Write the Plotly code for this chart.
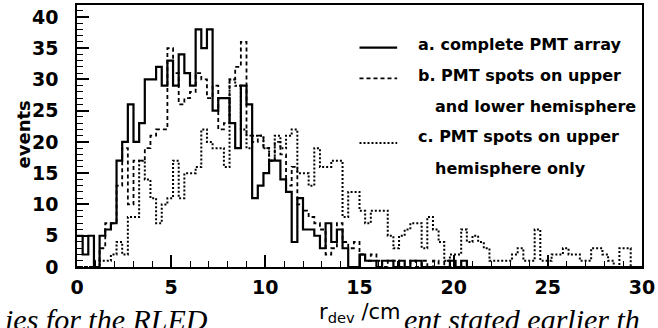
import numpy as np
import plotly.graph_objects as go

# ---------------- data (histograms, 0.3 cm bins from 0 to 30 cm) ----------------
bin_width = 0.3
series_names = ["a. complete PMT array",
                "b. PMT spots on upper",
                "c. PMT spots on upper"]

a_counts = [5, 2, 5, 0, 5, 6, 7, 17, 20, 26,
            20, 23, 30, 30, 32, 29, 33, 29, 34, 31,
            29, 38, 35, 38, 25, 27, 27, 23, 19, 29,
            26, 11, 13, 15, 17, 17, 14, 12, 4, 11,
            6, 6, 5, 3, 7, 4, 6, 3, 0, 0,
            2, 1, 1, 0, 1, 1, 0, 1, 0, 1,
            1, 0, 0, 0, 0, 0, 1, 0, 1, 0,
            0, 0, 0, 0, 0, 0, 0, 0, 0, 0,
            0, 0, 0, 0, 0, 0, 0, 0, 0, 0,
            0, 0, 0, 0, 0, 0, 0, 0, 0, 0]

b_counts = [0, 0, 0, 1, 3, 7, 7, 13, 19, 10,
            17, 17, 19, 21, 22, 22, 35, 31, 26, 27,
            28, 31, 30, 27, 29, 22, 23, 30, 32, 36,
            21, 20, 21, 19, 17, 20, 18, 13, 16, 10,
            9, 8, 7, 6, 2, 3, 7, 4, 3, 4,
            2, 1, 2, 1, 0, 1, 1, 0, 0, 1,
            0, 1, 0, 1, 0, 1, 0, 0, 0, 0,
            0, 0, 0, 0, 0, 0, 0, 0, 0, 0,
            0, 0, 0, 0, 0, 0, 0, 0, 0, 0,
            0, 0, 0, 0, 0, 0, 0, 0, 0, 0]

c_counts = [0, 0, 0, 0, 1, 1, 2, 4, 2, 8,
            8, 17, 14, 11, 7, 10, 11, 17, 11, 15,
            15, 16, 22, 20, 19, 19, 16, 30, 29, 22,
            19, 21, 21, 19, 17, 21, 19, 21, 22, 15,
            15, 13, 19, 16, 16, 17, 17, 8, 12, 12,
            9, 7, 9, 9, 9, 5, 3, 5, 6, 7,
            7, 3, 8, 6, 4, 1, 2, 2, 6, 4,
            5, 4, 3, 1, 1, 1, 1, 2, 3, 1,
            1, 6, 1, 1, 2, 2, 3, 2, 2, 1,
            1, 3, 3, 2, 1, 0, 3, 3, 0, 0]

x_ticks = [0, 5, 10, 15, 20, 25, 30]
y_ticks = [0, 5, 10, 15, 20, 25, 30, 35, 40]

# ---------------- figure ----------------
W, H = 658, 328
L, R, T, B = 77, 11, 3, 61
PW, PH = W - L - R, H - T - B


def px(xp):
    return (xp - L) / PW


def py(yp):
    return (H - B - yp) / PH


edges = np.arange(len(a_counts) + 1) * bin_width


def step_y(counts):
    return list(counts) + [counts[-1]]


fig = go.Figure()
styles = [dict(color="black", width=2.2, dash="solid"),
          dict(color="black", width=1.8, dash="4px,3px"),
          dict(color="black", width=2.0, dash="2px,2px")]
for counts, st, nm in zip([c_counts, b_counts, a_counts], styles[::-1], series_names[::-1]):
    fig.add_trace(go.Scatter(x=edges, y=step_y(counts), mode="lines",
                             line=dict(shape="hv", **st), name=nm,
                             showlegend=False, hoverinfo="skip"))

tickfont = dict(family="DejaVu Sans", size=19, color="black", weight="bold")
fig.update_xaxes(range=[0, 30], tickvals=x_ticks, ticks="inside", ticklen=12, tickwidth=1.5,
                 tickcolor="black", showline=True, linecolor="black", linewidth=2,
                 mirror=True, showgrid=False, zeroline=False, tickfont=tickfont,
                 ticklabelstandoff=2, ticklabeloverflow="allow",
                 minor=dict(dtick=1, ticks="inside", ticklen=6, tickwidth=1.2,
                            tickcolor="black", showgrid=False))
fig.update_yaxes(range=[0, 41.9], tickvals=y_ticks, ticks="inside", ticklen=12, tickwidth=1.5,
                 tickcolor="black", showline=True, linecolor="black", linewidth=1.5,
                 mirror=True, showgrid=False, zeroline=False, tickfont=tickfont,
                 ticklabelstandoff=13, ticklabeloverflow="allow",
                 minor=dict(dtick=1, ticks="inside", ticklen=6, tickwidth=1.2,
                            tickcolor="black", showgrid=False))

# legend (line samples + labels)
leg_font = dict(family="DejaVu Sans", size=16, color="black", weight="bold")
samples = [(46, styles[0]), (77, styles[1]), (142, styles[2])]
for yp, st in samples:
    fig.add_shape(type="line", xref="paper", yref="paper",
                  x0=px(362), x1=px(400), y0=py(yp), y1=py(yp),
                  line=dict(color="black", width=st["width"], dash=st["dash"]))
legend_lines = [(419, 43, "a. complete PMT array"),
                (419, 74, "b. PMT spots on upper"),
                (436, 105, "and lower hemisphere"),
                (419, 136, "c. PMT spots on upper"),
                (436, 168, "hemisphere only")]
for xp, yp, txt in legend_lines:
    fig.add_annotation(x=px(xp), y=py(yp), xref="paper", yref="paper", text=txt,
                       showarrow=False, xanchor="left", yanchor="middle", font=leg_font)

# axis titles
fig.add_annotation(x=px(23), y=py(133), xref="paper", yref="paper", text="events",
                   showarrow=False, textangle=-90, xanchor="center", yanchor="middle",
                   font=dict(family="DejaVu Sans", size=18, color="black", weight="bold"))
fig.add_annotation(x=px(362), y=py(313), xref="paper", yref="paper",
                   text="r<sub>dev</sub> /cm", showarrow=False, xanchor="center",
                   yanchor="middle",
                   font=dict(family="DejaVu Sans", size=21, color="black"))

# cut-off caption line of the scanned page
cap_font = dict(family="Liberation Serif", size=30, color="black", style="italic")
fig.add_annotation(x=px(2), y=py(301), xref="paper", yref="paper",
                   text="ies for the RLED", showarrow=False, xanchor="left", yanchor="top",
                   font=cap_font)
fig.add_annotation(x=px(405), y=py(301), xref="paper", yref="paper",
                   text="ent stated earlier th", showarrow=False, xanchor="left",
                   yanchor="top", font=cap_font)

fig.update_layout(width=W, height=H, margin=dict(l=L, r=R, t=T, b=B),
                  paper_bgcolor="white", plot_bgcolor="white", showlegend=False)

fig.write_html("out.html")
